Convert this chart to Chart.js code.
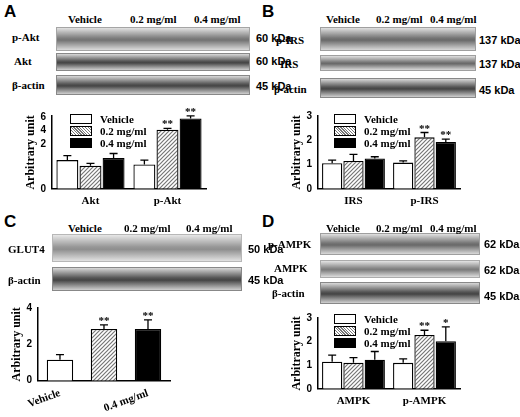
<!DOCTYPE html>
<html><head><meta charset="utf-8">
<script src="https://cdn.jsdelivr.net/npm/chart.js@4"></script>
<style>
body{margin:0;width:520px;height:417px;background:#fff;position:relative;overflow:hidden;font-family:"Liberation Serif",serif;font-weight:bold;}
.a{position:absolute;font-size:11px;white-space:nowrap;z-index:2}
.P{position:absolute;font-family:"Liberation Sans",Arial;font-weight:bold;font-size:17px}
.blot{position:absolute;background:linear-gradient(#d8d8d8,#555 45%,#444 55%,#cfcfcf);border:1px solid #888;box-sizing:border-box}
.cv{position:absolute}
.lg{position:absolute;font-size:11px;z-index:2}
.lg div{height:12px;display:flex;align-items:center}
.lg span{display:inline-block;width:20px;height:8px;border:1px solid #000;margin-right:8px}
</style></head><body>
<div class="P" style="left:4px;top:2px">A</div>
<div class="P" style="left:262px;top:2px">B</div>
<div class="P" style="left:4px;top:212px">C</div>
<div class="P" style="left:262px;top:212px">D</div>
<!-- A blots -->
<div class="a" style="left:68px;top:13px">Vehicle</div><div class="a" style="left:130px;top:13px">0.2 mg/ml</div><div class="a" style="left:194px;top:13px">0.4 mg/ml</div>
<div class="blot" style="left:56px;top:27px;width:194px;height:24px;opacity:.75"></div>
<div class="blot" style="left:56px;top:53px;width:194px;height:18px"></div>
<div class="blot" style="left:56px;top:75px;width:194px;height:20px"></div>
<div class="a" style="left:12px;top:31px">p-Akt</div><div class="a" style="left:14px;top:55px">Akt</div><div class="a" style="left:12px;top:79px">β-actin</div>
<div class="a" style="left:256px;top:32px;font-family:'Liberation Sans'">60 kDa</div><div class="a" style="left:256px;top:55px;font-family:'Liberation Sans'">60 kDa</div><div class="a" style="left:256px;top:80px;font-family:'Liberation Sans'">45 kDa</div>
<!-- B blots -->
<div class="a" style="left:326px;top:13px">Vehicle</div><div class="a" style="left:376px;top:13px">0.2 mg/ml</div><div class="a" style="left:430px;top:13px">0.4 mg/ml</div>
<div class="blot" style="left:320px;top:27px;width:156px;height:24px;opacity:.8"></div>
<div class="blot" style="left:320px;top:55px;width:156px;height:16px;opacity:.8"></div>
<div class="blot" style="left:320px;top:78px;width:156px;height:20px"></div>
<div class="a" style="left:276px;top:34px">p-IRS</div><div class="a" style="left:280px;top:58px">IRS</div><div class="a" style="left:274px;top:83px">β-actin</div>
<div class="a" style="left:479px;top:34px;font-family:'Liberation Sans'">137 kDa</div><div class="a" style="left:479px;top:58px;font-family:'Liberation Sans'">137 kDa</div><div class="a" style="left:479px;top:84px;font-family:'Liberation Sans'">45 kDa</div>
<!-- C blots -->
<div class="a" style="left:68px;top:222px">Vehicle</div><div class="a" style="left:124px;top:222px">0.2 mg/ml</div><div class="a" style="left:186px;top:222px">0.4 mg/ml</div>
<div class="blot" style="left:52px;top:234px;width:190px;height:28px;opacity:.6"></div>
<div class="blot" style="left:52px;top:267px;width:190px;height:24px"></div>
<div class="a" style="left:8px;top:243px">GLUT4</div><div class="a" style="left:8px;top:274px">β-actin</div>
<div class="a" style="left:248px;top:243px;font-family:'Liberation Sans'">50 kDa</div><div class="a" style="left:248px;top:274px;font-family:'Liberation Sans'">45 kDa</div>
<!-- D blots -->
<div class="a" style="left:326px;top:222px">Vehicle</div><div class="a" style="left:376px;top:222px">0.2 mg/ml</div><div class="a" style="left:430px;top:222px">0.4 mg/ml</div>
<div class="blot" style="left:320px;top:233px;width:160px;height:22px;opacity:.8"></div>
<div class="blot" style="left:320px;top:260px;width:160px;height:18px;opacity:.7"></div>
<div class="blot" style="left:320px;top:282px;width:160px;height:22px"></div>
<div class="a" style="left:268px;top:238px">p-AMPK</div><div class="a" style="left:274px;top:262px">AMPK</div><div class="a" style="left:272px;top:287px">β-actin</div>
<div class="a" style="left:484px;top:238px;font-family:'Liberation Sans'">62 kDa</div><div class="a" style="left:484px;top:264px;font-family:'Liberation Sans'">62 kDa</div><div class="a" style="left:484px;top:290px;font-family:'Liberation Sans'">45 kDa</div>

<div class="cv" style="left:24px;top:108px;width:190px;height:102px"><canvas id="cA"></canvas></div>
<div class="cv" style="left:290px;top:108px;width:178px;height:102px"><canvas id="cB"></canvas></div>
<div class="cv" style="left:10px;top:300px;width:180px;height:117px"><canvas id="cC"></canvas></div>
<div class="cv" style="left:290px;top:310px;width:178px;height:100px"><canvas id="cD"></canvas></div>

<div class="lg" style="left:70px;top:113px"><div><span></span>Vehicle</div><div><span class="h"></span>0.2 mg/ml</div><div><span style="background:#000"></span>0.4 mg/ml</div></div>
<div class="lg" style="left:334px;top:113px"><div><span></span>Vehicle</div><div><span class="h"></span>0.2 mg/ml</div><div><span style="background:#000"></span>0.4 mg/ml</div></div>
<div class="lg" style="left:334px;top:313px"><div><span></span>Vehicle</div><div><span class="h"></span>0.2 mg/ml</div><div><span style="background:#000"></span>0.4 mg/ml</div></div>
<script>
const groups = ["Vehicle", "0.2 mg/ml", "0.4 mg/ml"];
// A: Akt / p-Akt (broken axis 0-2 | 4-6)
const aCats = ["Akt", "p-Akt"];
const aVals = [[1.3, 1.1], [1.05, 4.1], [1.4, 5.8]];
const aErr = [[0.2, 0.2], [0.1, 0.2], [0.2, 0.4]];
const aStars = [["", ""], ["", "**"], ["", "**"]];
// B: IRS / p-IRS
const bCats = ["IRS", "p-IRS"];
const bVals = [[1.05, 1.08], [1.15, 2.12], [1.25, 1.93]];
const bErr = [[0.13, 0.07], [0.27, 0.2], [0.07, 0.12]];
const bStars = [["", ""], ["", "**"], ["", "**"]];
// C: GLUT4
const cCats = ["Vehicle", "0.2 mg/ml", "0.4 mg/ml"];
const cVals = [1.15, 2.85, 2.85];
const cErr = [0.28, 0.22, 0.5];
const cStars = ["", "**", "**"];
// D: AMPK / p-AMPK
const dCats = ["AMPK", "p-AMPK"];
const dVals = [[1.15, 1.1], [1.1, 2.28], [1.23, 2.02]];
const dErr = [[0.28, 0.17], [0.22, 0.2], [0.35, 0.6]];
const dStars = [["", ""], ["", "**"], ["", "*"]];

const hatch = (() => {
  const c = document.createElement("canvas"); c.width = 4; c.height = 4;
  const x = c.getContext("2d");
  x.fillStyle = "#fff"; x.fillRect(0, 0, 4, 4);
  x.strokeStyle = "#777"; x.lineWidth = 1.2;
  x.beginPath(); x.moveTo(0, 4); x.lineTo(4, 0); x.moveTo(-1, 1); x.lineTo(1, -1); x.moveTo(3, 5); x.lineTo(5, 3); x.stroke();
  return x.createPattern(c, "repeat");
})();
document.querySelectorAll(".lg span.h").forEach(s => s.style.background = "repeating-linear-gradient(45deg,#fff 0 1px,#777 1px 2px)");
const fills = ["#fff", hatch, "#000"];
const serif = { family: "Liberation Serif", weight: "bold", size: 11 };

// broken axis for panel A
const brk = v => v <= 2 ? v : 2.65 + (v - 4) * 0.3;

function errPlugin(vals, errs, stars, tf) {
  return {
    id: "err",
    afterDatasetsDraw(chart) {
      const ctx = chart.ctx, ys = chart.scales.y;
      ctx.save(); ctx.strokeStyle = "#000"; ctx.fillStyle = "#000"; ctx.lineWidth = 1.3;
      ctx.font = "bold 11px 'Liberation Serif'"; ctx.textAlign = "center";
      chart.data.datasets.forEach((ds, i) => {
        chart.getDatasetMeta(i).data.forEach((bar, j) => {
          const v = vals[i][j], e = errs[i][j];
          const top = ys.getPixelForValue(tf(v + e));
          ctx.beginPath(); ctx.moveTo(bar.x, bar.y); ctx.lineTo(bar.x, top);
          ctx.moveTo(bar.x - 4, top); ctx.lineTo(bar.x + 4, top); ctx.stroke();
          if (stars[i][j]) ctx.fillText(stars[i][j], bar.x, top - 1);
        });
      });
      ctx.restore();
    }
  };
}

function make(id, cats, vals, errs, stars, max, ticks, tf, tickLbl, pad) {
  const single = !Array.isArray(vals[0]);
  const datasets = single
    ? [{ data: vals.map(v => tf(v)), backgroundColor: fills, borderColor: "#000", borderWidth: 1.3, categoryPercentage: 0.6, barPercentage: 1 }]
    : vals.map((v, i) => ({ label: groups[i], data: v.map(x => tf(x)), backgroundColor: fills[i], borderColor: "#000", borderWidth: 1.3, categoryPercentage: 0.9, barPercentage: 0.95 }));
  new Chart(document.getElementById(id), {
    type: "bar",
    data: { labels: cats, datasets },
    options: {
      responsive: true, maintainAspectRatio: false, animation: false,
      layout: { padding: pad },
      plugins: { legend: { display: false }, tooltip: { enabled: false } },
      scales: {
        x: {
          grid: { display: false, drawTicks: true, tickLength: 4, tickColor: "#000" },
          border: { color: "#000", width: 1.5 },
          ticks: { color: "#000", font: serif, maxRotation: single ? 20 : 0, minRotation: single ? 20 : 0, padding: 2 }
        },
        y: {
          min: 0, max,
          afterBuildTicks: a => { a.ticks = ticks.map(v => ({ value: v })); },
          grid: { display: false, drawTicks: true, tickLength: 4, tickColor: "#000" },
          border: { color: "#000", width: 1.5 },
          title: { display: true, text: "Arbitrary unit", color: "#000", font: { ...serif, size: 12 }, padding: 0 },
          ticks: { color: "#000", font: { family: "Liberation Sans", weight: "bold", size: 10 }, callback: tickLbl, padding: 2 }
        }
      }
    },
    plugins: [errPlugin(single ? [vals] : vals, single ? [errs] : errs, single ? [stars] : stars, tf)]
  });
}
const ident = v => v;
const aLbl = { 0: "0", 2: "2", 2.65: "4", 3.25: "6" };
make("cA", aCats, aVals, aErr, aStars, 3.3, [0, 2, 2.65, 3.25], brk, v => aLbl[v], { top: 4, right: 8 });
make("cB", bCats, bVals, bErr, bStars, 3, [0, 1, 2, 3], ident, v => v, { top: 4, right: 8 });
make("cC", cCats, cVals, cErr, cStars, 4, [0, 2, 4], ident, v => v, { top: 4, right: 20 });
make("cD", dCats, dVals, dErr, dStars, 3, [0, 1, 2, 3], ident, v => v, { top: 4, right: 8 });
</script>
</body></html>
